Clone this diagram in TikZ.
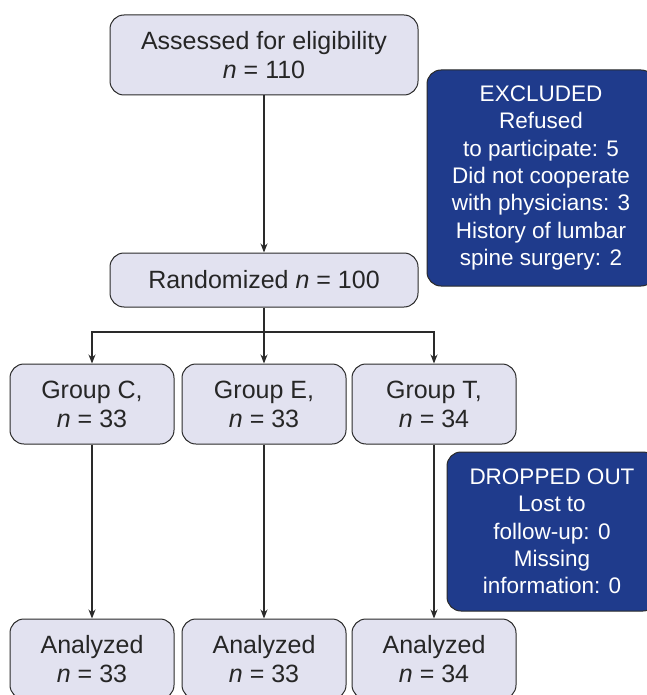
\documentclass[tikz,border=0pt]{standalone}
\usepackage{fontspec}
\setmainfont{Liberation Sans}
\usetikzlibrary{arrows.meta}
\definecolor{boxfill}{HTML}{E2E2F0}
\definecolor{darkblue}{HTML}{1F3B8C}
\definecolor{edge}{HTML}{2A2A2A}
\begin{document}
\begin{tikzpicture}[x=1pt,y=-1pt,
  lightbox/.style={draw=edge,line width=1pt,fill=boxfill,rounded corners=14pt,align=center,
    font=\fontsize{25}{29}\selectfont,text=black!85,inner sep=0pt},
  bluebox/.style={draw=edge,line width=1pt,fill=darkblue,rounded corners=14pt,align=center,
    font=\fontsize{22.5}{27.3}\selectfont,text=white,inner sep=0pt},
  conn/.style={draw=edge,line width=1.1pt},
  arr/.style={conn,-{Stealth[length=9pt,width=7pt]}}]
\useasboundingbox (0,0) rectangle (646,695);
\node[lightbox,minimum width=308pt,minimum height=80pt] (assess) at (264,55) {Assessed for eligibility\\\textit{n} = 110};
\node[bluebox,minimum width=228pt,minimum height=216pt] (excl) at (541,178) {EXCLUDED\\Refused\\to participate: 5\\Did not cooperate\\with physicians: 3\\History of lumbar\\spine surgery: 2};
\node[lightbox,minimum width=308pt,minimum height=54pt] (rand) at (264,280) {Randomized \textit{n} = 100};
\node[lightbox,minimum width=164pt,minimum height=80pt] (gc) at (92,404) {Group C,\\\textit{n} = 33};
\node[lightbox,minimum width=164pt,minimum height=80pt] (ge) at (264,404) {Group E,\\\textit{n} = 33};
\node[lightbox,minimum width=164pt,minimum height=80pt] (gt) at (434,404) {Group T,\\\textit{n} = 34};
\node[bluebox,minimum width=210pt,minimum height=159pt] (drop) at (552,531.5) {DROPPED OUT\\Lost to\\follow-up: 0\\Missing\\information: 0};
\node[lightbox,minimum width=164pt,minimum height=80pt] (ac) at (92,659) {Analyzed\\\textit{n} = 33};
\node[lightbox,minimum width=164pt,minimum height=80pt] (ae) at (264,659) {Analyzed\\\textit{n} = 33};
\node[lightbox,minimum width=164pt,minimum height=80pt] (at) at (434,659) {Analyzed\\\textit{n} = 34};
\coordinate (split) at (264,332);
\draw[arr] (assess.south) -- (rand.north);
\draw[conn] (rand.south) -- (split);
\draw[arr] (split) -| (gc.north);
\draw[arr] (split) -| (gt.north);
\draw[arr] (split) -- (ge.north);
\draw[arr] (gc.south) -- (ac.north);
\draw[arr] (ge.south) -- (ae.north);
\draw[arr] (gt.south) -- (at.north);
\end{tikzpicture}
\end{document}
